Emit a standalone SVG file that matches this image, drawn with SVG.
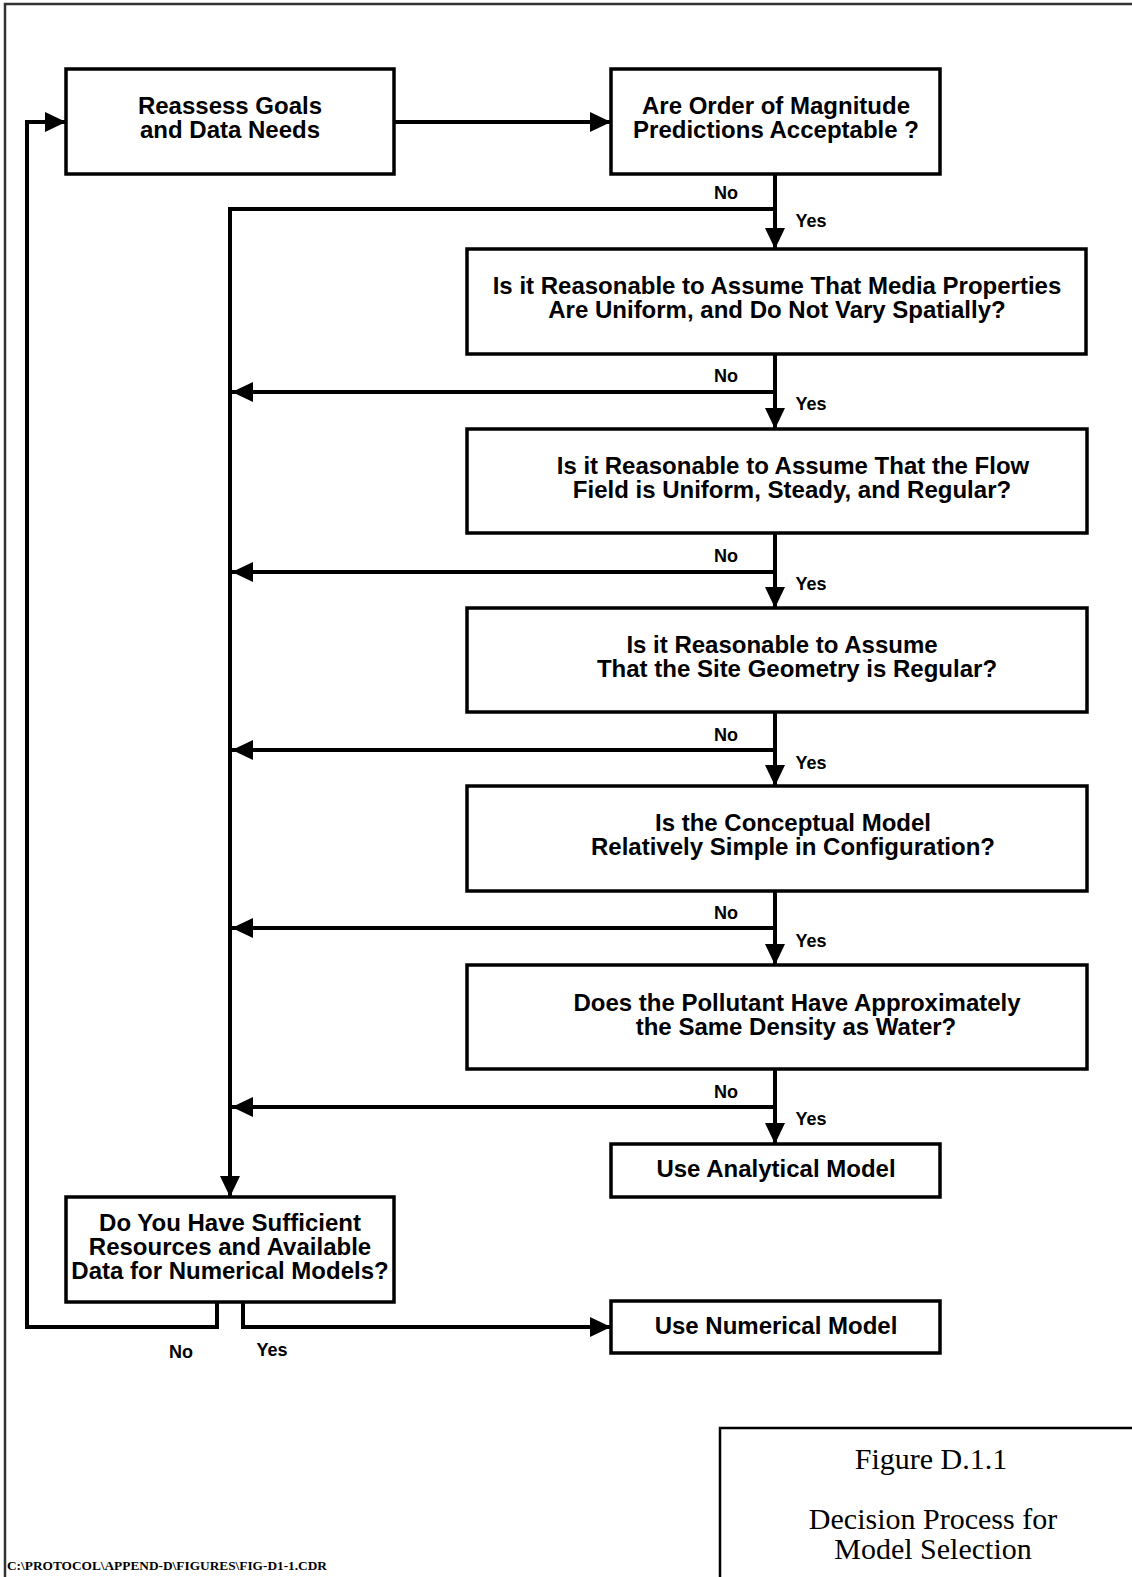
<svg xmlns="http://www.w3.org/2000/svg" width="1132" height="1577" viewBox="0 0 1132 1577">
<style>
.box{fill:#fff;stroke:#000;stroke-width:3.5}
.t{font-family:"Liberation Sans",Arial,sans-serif;font-weight:bold;font-size:24px;text-anchor:middle;fill:#000}
.l{font-family:"Liberation Sans",Arial,sans-serif;font-weight:bold;font-size:18px;text-anchor:middle;fill:#000}
.c{fill:none;stroke:#000;stroke-width:4}
.ca{fill:none;stroke:#000;stroke-width:4;marker-end:url(#ah)}
.s{font-family:"Liberation Serif","Times New Roman",serif;font-size:30px;text-anchor:middle;fill:#000}
</style>
<defs>
<marker id="ah" markerUnits="userSpaceOnUse" markerWidth="22" markerHeight="20" refX="21" refY="10" orient="auto">
<path d="M0,0 L21,10 L0,20 z" fill="#000"/>
</marker>
</defs>
<rect width="1132" height="1577" fill="#fff"/>
<path d="M5,1577 V4 H1132" fill="none" stroke="#333" stroke-width="2.5"/>

<g id="connectors">
<path class="ca" d="M394,122 H611"/>
<path class="ca" d="M775,174 V249"/>
<path class="ca" d="M775,354 V429"/>
<path class="ca" d="M775,533 V608"/>
<path class="ca" d="M775,712 V786"/>
<path class="ca" d="M775,891 V965"/>
<path class="ca" d="M775,1069 V1144"/>
<path class="ca" d="M775,209 H230 V1197"/>
<path class="ca" d="M775,392 H232"/>
<path class="ca" d="M775,572 H232"/>
<path class="ca" d="M775,750 H232"/>
<path class="ca" d="M775,928 H232"/>
<path class="ca" d="M775,1107 H232"/>
<path class="ca" d="M217,1302 V1327 H27 V122 H66"/>
<path class="ca" d="M243,1302 V1327 H611"/>
<text class="l" x="726" y="199">No</text>
<text class="l" x="811" y="227">Yes</text>
<text class="l" x="726" y="382">No</text>
<text class="l" x="811" y="410">Yes</text>
<text class="l" x="726" y="562">No</text>
<text class="l" x="811" y="590">Yes</text>
<text class="l" x="726" y="741">No</text>
<text class="l" x="811" y="769">Yes</text>
<text class="l" x="726" y="919">No</text>
<text class="l" x="811" y="947">Yes</text>
<text class="l" x="726" y="1098">No</text>
<text class="l" x="811" y="1125">Yes</text>
<text class="l" x="181" y="1358">No</text>
<text class="l" x="272" y="1356">Yes</text>
</g>

<g id="reassess">
<rect class="box" x="66" y="69" width="328" height="105"/>
<text class="t" x="230" y="114">Reassess Goals</text>
<text class="t" x="230" y="138">and Data Needs</text>
</g>
<g id="magnitude">
<rect class="box" x="611" y="69" width="329" height="105"/>
<text class="t" x="776" y="114">Are Order of Magnitude</text>
<text class="t" x="776" y="138">Predictions Acceptable ?</text>
</g>
<g id="media">
<rect class="box" x="467" y="249" width="619" height="105"/>
<text class="t" x="777" y="294">Is it Reasonable to Assume That Media Properties</text>
<text class="t" x="777" y="318">Are Uniform, and Do Not Vary Spatially?</text>
</g>
<g id="flow">
<rect class="box" x="467" y="429" width="620" height="104"/>
<text class="t" x="793" y="474">Is it Reasonable to Assume That the Flow</text>
<text class="t" x="792" y="498">Field is Uniform, Steady, and Regular?</text>
</g>
<g id="geometry">
<rect class="box" x="467" y="608" width="620" height="104"/>
<text class="t" x="782" y="653">Is it Reasonable to Assume</text>
<text class="t" x="797" y="677">That the Site Geometry is Regular?</text>
</g>
<g id="conceptual">
<rect class="box" x="467" y="786" width="620" height="105"/>
<text class="t" x="793" y="831">Is the Conceptual Model</text>
<text class="t" x="793" y="855">Relatively Simple in Configuration?</text>
</g>
<g id="pollutant">
<rect class="box" x="467" y="965" width="620" height="104"/>
<text class="t" x="797" y="1011">Does the Pollutant Have Approximately</text>
<text class="t" x="796" y="1035">the Same Density as Water?</text>
</g>
<g id="analytical">
<rect class="box" x="611" y="1144" width="329" height="53"/>
<text class="t" x="776" y="1177">Use Analytical Model</text>
</g>
<g id="resources">
<rect class="box" x="66" y="1197" width="328" height="105"/>
<text class="t" x="230" y="1231">Do You Have Sufficient</text>
<text class="t" x="230" y="1255">Resources and Available</text>
<text class="t" x="230" y="1279">Data for Numerical Models?</text>
</g>
<g id="numerical">
<rect class="box" x="611" y="1301" width="329" height="52"/>
<text class="t" x="776" y="1334">Use Numerical Model</text>
</g>
<g id="caption">
<rect x="720" y="1428" width="420" height="160" fill="#fff" stroke="#000" stroke-width="2.5"/>
<text class="s" x="931" y="1469">Figure D.1.1</text>
<text class="s" x="933" y="1529">Decision Process for</text>
<text class="s" x="933" y="1559">Model Selection</text>
</g>
<text x="7" y="1570" font-family="'Liberation Serif','Times New Roman',serif" font-weight="bold" font-size="12" textLength="320" lengthAdjust="spacingAndGlyphs" fill="#000">C:\PROTOCOL\APPEND-D\FIGURES\FIG-D1-1.CDR</text>
</svg>
